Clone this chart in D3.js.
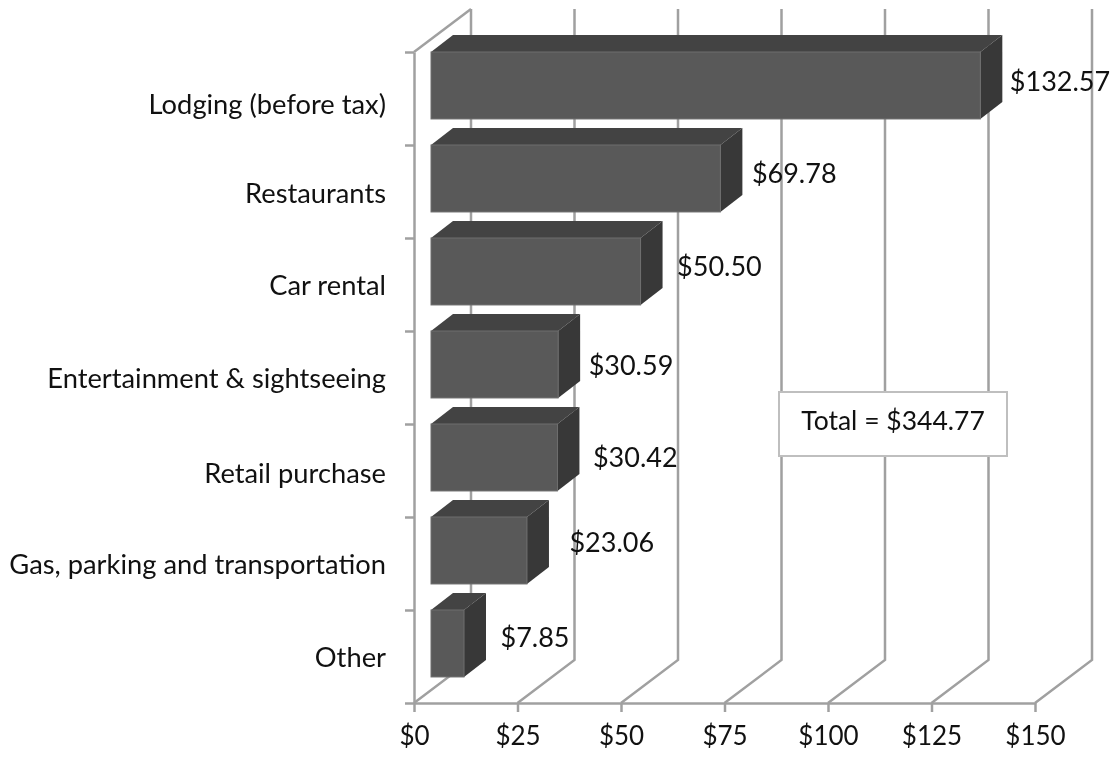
<!DOCTYPE html>
<html>
<head>
<meta charset="UTF-8">
<title>Expenses</title>
<script src="https://d3js.org/d3.v7.min.js"></script>
<style>
html, body { margin: 0; padding: 0; background: #fff; }
svg { display: block; filter: blur(0.4px); }
text { font-family: "Lato", "Open Sans", sans-serif; fill: #111; }
</style>
</head>
<body>
<div id="chart"></div>
<script>
const categories = ["Lodging (before tax)", "Restaurants", "Car rental", "Entertainment & sightseeing", "Retail purchase", "Gas, parking and transportation", "Other"];
const values = [132.57, 69.78, 50.50, 30.59, 30.42, 23.06, 7.85];
const xTicks = [0, 25, 50, 75, 100, 125, 150];
const totalLabel = "Total = $344.77";

// hand placed offsets of the labels
const labelNudge = [[30, 30], [32, 29], [37, 29], [31, 35], [36, 34], [43, 26], [37, 28]];
const categoryNudge = [6, 2, 1, 1, 3, 1, 1];

const width = 1116, height = 757;
const wallDx = 57, wallDy = -43;   // depth of the back wall
const barDx = 22, barDy = -17;     // depth of a bar
const barInset = 17;
const gridColor = "#a0a0a0";

const svg = d3.select("#chart").append("svg")
  .attr("width", width)
  .attr("height", height);

const x = d3.scaleLinear().domain([0, 150]).range([414, 1035]);
const y = d3.scaleBand().domain(categories).range([52, 703]);
const yEdge = d3.scaleLinear().domain([0, categories.length]).range([52, 703]);
const barH = y.bandwidth() * 0.72;
const money = d3.format("$.2f");

// back wall grid lines
svg.append("g").selectAll("path")
  .data(xTicks)
  .join("path")
    .attr("fill", "none")
    .attr("stroke", gridColor)
    .attr("stroke-width", 2.5)
    .attr("d", d => d3.line()([
      [x(d), yEdge(7)],
      [x(d) + wallDx, yEdge(7) + wallDy],
      [x(d) + wallDx, yEdge(0) + wallDy]
    ]));

// left wall top edge
svg.append("path")
  .attr("fill", "none")
  .attr("stroke", gridColor)
  .attr("stroke-width", 2.5)
  .attr("d", d3.line()([[x(0), yEdge(0)], [x(0) + wallDx, yEdge(0) + wallDy]]));

// axes
const xAxis = svg.append("g")
  .attr("transform", `translate(0,${yEdge(7)})`)
  .call(d3.axisBottom(x).tickValues(xTicks).tickSize(9).tickSizeOuter(0).tickPadding(15).tickFormat(d => "$" + d));
const yAxis = svg.append("g")
  .attr("transform", `translate(${x(0)},0)`)
  .call(d3.axisLeft(yEdge).ticks(7).tickSize(9).tickSizeOuter(0).tickFormat(""));
[xAxis, yAxis].forEach(a => {
  a.selectAll("path, line").attr("stroke", gridColor).attr("stroke-width", 2.5);
});
xAxis.selectAll("text").attr("font-size", 26).attr("dy", "0.71em");

// bars
const bars = svg.append("g").selectAll("g")
  .data(categories)
  .join("g")
    .attr("transform", c => `translate(${x(0) + barInset},${y(c)})`);

bars.append("path")
  .attr("fill", "#434343")
  .attr("d", (c, i) => {
    const w = x(values[i]) - x(0) + 0.5;
    return d3.line()([[0, 0], [barDx, barDy], [w + barDx, barDy], [w, 0]]) + "Z";
  });
bars.append("path")
  .attr("fill", "#383838")
  .attr("d", (c, i) => {
    const w = x(values[i]) - x(0) + 0.5;
    return d3.line()([[w, 0], [w + barDx, barDy], [w + barDx, barH + barDy], [w, barH]]) + "Z";
  });
bars.append("rect")
  .attr("width", (c, i) => x(values[i]) - x(0) + 0.5)
  .attr("height", barH)
  .attr("fill", "#595959")
  .attr("stroke", "#6e6e6e")
  .attr("stroke-width", 1);

// category labels
svg.append("g").selectAll("text")
  .data(categories)
  .join("text")
    .attr("x", 386)
    .attr("y", (c, i) => y(c) + y.bandwidth() / 2 + categoryNudge[i])
    .attr("dy", "0.35em")
    .attr("text-anchor", "end")
    .attr("font-size", 27.3)
    .text(d => d);

// value labels
svg.append("g").selectAll("text")
  .data(values)
  .join("text")
    .attr("x", (d, i) => x(d) + barInset + labelNudge[i][0])
    .attr("y", (d, i) => y(categories[i]) + labelNudge[i][1])
    .attr("dy", "0.35em")
    .attr("font-size", 27)
    .text(d => money(d));

// total box
svg.append("rect")
  .attr("x", 779).attr("y", 392)
  .attr("width", 228).attr("height", 64)
  .attr("fill", "#fff")
  .attr("stroke", "#bfbfbf")
  .attr("stroke-width", 2);
svg.append("text")
  .attr("x", 893).attr("y", 421)
  .attr("dy", "0.35em")
  .attr("text-anchor", "middle")
  .attr("font-size", 26.5)
  .text(totalLabel);
</script>
</body>
</html>
